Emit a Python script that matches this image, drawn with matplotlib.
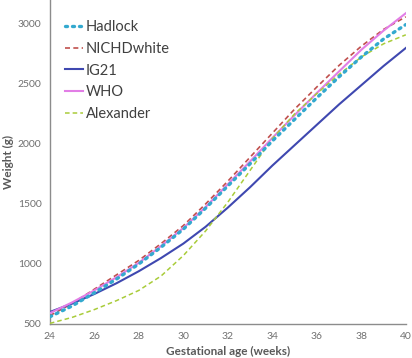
import numpy as np
import matplotlib.pyplot as plt

# gestational age (weeks) and 10th-centile weights (g)
weeks = np.arange(24, 41)
hadlock = [560, 650, 760, 875, 1000, 1140, 1290, 1465, 1650, 1835, 2025, 2205, 2385, 2560, 2725, 2875, 2995]
nichd_white = [570, 670, 790, 910, 1030, 1170, 1320, 1500, 1690, 1890, 2090, 2290, 2475, 2655, 2815, 2955, 3060]
ig21 = [600, 670, 750, 840, 940, 1050, 1170, 1310, 1470, 1640, 1820, 1990, 2160, 2330, 2490, 2650, 2800]
who = [590, 680, 780, 890, 1010, 1150, 1300, 1475, 1665, 1855, 2050, 2240, 2425, 2605, 2785, 2945, 3090]
alexander = [505, 555, 620, 695, 780, 900, 1070, 1275, 1515, 1780, 2045, 2250, 2420, 2580, 2725, 2835, 2910]

xticks = [24, 26, 28, 30, 32, 34, 36, 38, 40]
yticks = [500, 1000, 1500, 2000, 2500, 3000]

plt.rcParams["font.family"] = ["Lato", "DejaVu Sans"]

fig = plt.figure(figsize=(4.12, 3.58), dpi=100)
ax = fig.add_axes([0.121, 0.095, 0.864, 0.905])

ax.plot(weeks, nichd_white, color="#c0504d", lw=1.2, ls=(0, (3, 2)), label="NICHDwhite", zorder=3)
ax.plot(weeks, ig21, color="#3f48b0", lw=1.5, label="IG21", zorder=3)
ax.plot(weeks, who, color="#e27ee6", lw=1.5, label="WHO", zorder=3)
ax.plot(weeks, alexander, color="#a9cc3a", lw=1.1, ls=(0, (3, 2)), label="Alexander", zorder=3)
ax.plot(weeks, hadlock, color="#33a9cf", lw=2.4, ls=(0, (0.6, 1.5)),
        dash_capstyle="round", label="Hadlock", zorder=4)

ax.set_xlim(24, 40)
ax.set_ylim(500, 3200)
ax.set_xticks(xticks)
ax.set_yticks(yticks)
ax.tick_params(length=0, labelsize=7.5, labelcolor="#707070", pad=6)

for side in ("top", "right"):
    ax.spines[side].set_visible(False)
for side in ("left", "bottom"):
    ax.spines[side].set_color("#8c8c8c")
    ax.spines[side].set_linewidth(1.0)

ax.set_xlabel("Gestational age (weeks)", fontsize=8.5, fontweight="bold", color="#595959", labelpad=3)
ax.set_ylabel("Weight (g)", fontsize=8.5, fontweight="bold", color="#595959", labelpad=3)

handles, labels = ax.get_legend_handles_labels()
order = [labels.index(n) for n in ["Hadlock", "NICHDwhite", "IG21", "WHO", "Alexander"]]
leg = ax.legend([handles[i] for i in order], [labels[i] for i in order],
                loc="upper left", bbox_to_anchor=(0.025, 0.955), frameon=False,
                fontsize=10.5, handlelength=1.25, handletextpad=0.2,
                labelspacing=0.52, borderaxespad=0.0)
for t in leg.get_texts():
    t.set_color("#404040")

fig.savefig("out.png", dpi=100)
